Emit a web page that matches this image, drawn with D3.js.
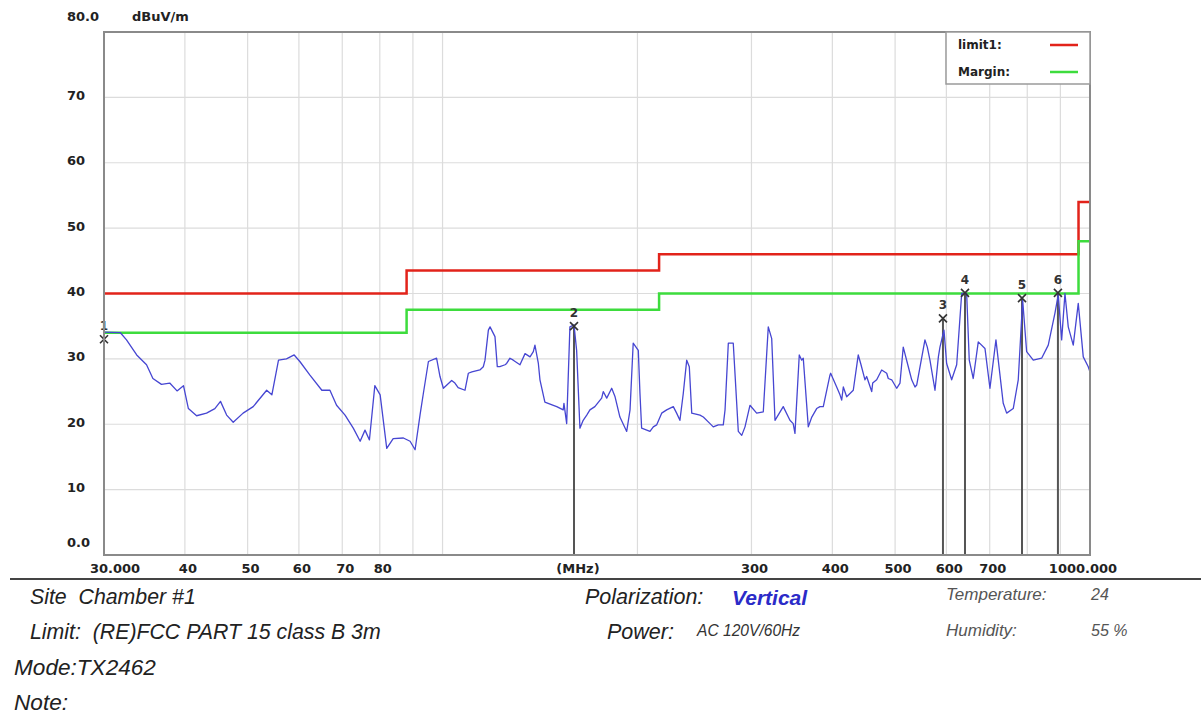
<!DOCTYPE html>
<html>
<head>
<meta charset="utf-8">
<script src="https://cdn.jsdelivr.net/npm/d3@7"></script>
<style>
	body { margin: 0; background: #fff; }
	svg { display: block; }
	.tick { font-family: "DejaVu Sans", sans-serif; font-weight: bold; font-size: 13px; fill: #222; }
	.info { font-family: "Liberation Sans", Arial, sans-serif; font-style: italic; white-space: pre; }
</style>
</head>
<body>
<svg id="chart" width="1201" height="716"></svg>
<script>
const width = 1201,
	height = 716;

// limit lines (FCC part 15 class B, 3m)
const limitFreq = [30, 88, 216, 960, 1000];
const limitLevel = [40, 43.5, 46, 54, 54];
const marginLevel = [34, 37.5, 40, 48, 48];

const yTicks = [0, 10, 20, 30, 40, 50, 60, 70, 80];
const xLabels = [30, 40, 50, 60, 70, 80, 300, 400, 500, 600, 700, 1000];
const xGrid = [40, 50, 60, 70, 80, 90, 100, 200, 300, 400, 500, 600, 700, 800, 900];

const markerNames = ["1", "2", "3", "4", "5", "6"];
const markerFreq = [30.0, 159.6, 592.8, 641.1, 785.2, 892.2];
const markerLevel = [33.0, 35.0, 36.2, 40.1, 39.3, 40.1];

// measured trace [MHz, dBuV/m]
const trace = [
	[30.0,34.1],[31.8,34.0],[32.5,32.9],[33.7,30.6],[34.9,29.1],[35.7,27.0],[36.8,26.1],[37.9,26.3],
	[38.9,25.1],[39.8,25.9],[40.5,22.4],[41.7,21.3],[43.2,21.7],[44.5,22.4],[45.4,23.5],[46.4,21.4],
	[47.5,20.3],[49.2,21.7],[51.0,22.7],[53.5,25.2],[54.5,24.5],[55.8,29.8],[57.4,30.0],[59.0,30.6],
	[60.2,29.6],[62.4,27.5],[65.1,25.2],[67.0,25.2],[68.6,22.9],[70.7,21.4],[72.8,19.4],[74.6,17.4],
	[75.9,19.1],[77.1,17.6],[78.6,25.9],[80.1,24.5],[82.0,16.3],[83.9,17.8],[87.0,17.9],[89.1,17.4],
	[90.7,16.1],[92.3,21.4],[93.4,24.7],[95.1,29.6],[97.9,30.1],[99.1,27.3],[100.3,25.5],[103.3,26.7],
	[104.5,26.3],[105.7,25.6],[108.3,25.2],[109.6,27.8],[111.0,28.0],[114.2,28.3],[115.6,28.8],[116.3,29.8],
	[117.7,34.4],[118.4,34.9],[120.5,33.4],[121.5,28.8],[122.6,28.8],[124.9,29.1],[125.6,29.3],[127.1,30.1],
	[128.6,29.8],[131.7,29.1],[134.1,30.8],[136.5,30.3],[138.1,31.1],[138.9,32.1],[140.6,29.3],[141.4,26.8],
	[143.9,23.4],[148.3,22.9],[150.1,22.7],[153.6,22.2],[154.0,23.2],[155.5,20.1],[157.3,34.9],[159.6,35.2],
	[161.1,31.3],[163.0,19.4],[164.9,20.6],[167.0,21.4],[168.9,22.2],[171.9,22.7],[176.1,24.0],[177.1,25.0],
	[179.3,24.0],[182.5,25.5],[184.7,24.2],[187.9,21.1],[192.5,18.9],[194.8,22.2],[197.0,32.4],[200.6,31.3],
	[201.8,24.7],[203.0,19.4],[209.1,18.9],[211.6,19.6],[214.1,19.9],[218.0,21.7],[221.9,22.2],[227.2,22.7],
	[229.9,21.7],[232.6,20.6],[235.4,24.7],[238.3,29.8],[240.5,28.8],[242.6,21.7],[249.8,21.4],[252.8,21.1],
	[258.9,20.1],[261.9,19.6],[266.6,19.9],[271.4,19.9],[273.1,22.2],[276.3,32.4],[281.2,32.4],[286.3,18.9],
	[289.8,18.3],[293.2,19.6],[298.4,22.9],[305.6,21.7],[312.9,21.9],[318.5,34.9],[322.4,33.1],[326.2,20.6],
	[335.9,22.7],[344.0,20.6],[348.0,20.1],[350.2,18.6],[355.6,30.6],[358.7,29.8],[360.7,30.1],[367.2,19.6],
	[371.8,21.1],[378.3,22.4],[382.8,22.7],[387.3,22.7],[396.6,27.5],[397.6,27.8],[406.2,25.7],[411.0,24.5],
	[413.5,23.7],[415.9,25.7],[420.9,24.2],[425.9,24.7],[430.9,25.2],[438.6,30.6],[442.4,29.3],[449.2,26.8],
	[451.9,27.3],[460.1,25.0],[461.7,26.3],[468.3,26.8],[476.7,28.3],[485.3,27.8],[488.0,27.0],[494.0,26.8],
	[502.8,25.5],[508.8,26.3],[514.7,31.8],[527.2,27.8],[530.4,26.8],[536.7,25.7],[539.9,26.0],[556.0,32.9],
	[560.7,31.8],[566.0,29.8],[576.2,25.2],[583.2,30.3],[586.5,31.8],[594.9,34.4],[600.6,29.3],[611.4,26.8],
	[622.4,29.1],[633.6,40.0],[644.9,40.0],[650.9,29.8],[660.2,27.0],[672.1,32.6],[688.3,31.6],[700.6,25.5],
	[715.7,32.9],[734.5,23.2],[743.5,21.7],[761.1,22.4],[774.8,26.8],[787.0,39.0],[798.3,31.1],[817.3,29.8],
	[842.0,30.1],[862.0,32.1],[882.8,37.0],[893.2,39.8],[904.1,32.9],[914.8,40.0],[925.6,34.9],[942.2,32.1],
	[959.1,38.5],[976.3,30.3],[993.8,28.8],[1000,28.0]
];

const xScale = d3.scaleLog()
	.domain([30, 1000])
	.range([104, 1090]);

const yScale = d3.scaleLinear()
	.domain([0, 80])
	.range([555, 32]);

const chart = d3.select("#chart");

// grid
chart.selectAll("line.hgrid")
	.data(yTicks.slice(1, -1))
	.join("line")
	.attr("class", "hgrid")
	.attr("x1", xScale(30)).attr("x2", xScale(1000))
	.attr("y1", d => yScale(d)).attr("y2", d => yScale(d))
	.attr("stroke", "#dcdcdc").attr("stroke-width", 1.2);

chart.selectAll("line.vgrid")
	.data(xGrid)
	.join("line")
	.attr("class", "vgrid")
	.attr("x1", d => xScale(d)).attr("x2", d => xScale(d))
	.attr("y1", yScale(80)).attr("y2", yScale(0))
	.attr("stroke", "#dcdcdc").attr("stroke-width", 1.2);

// limit + margin
const stepLine = d3.line()
	.x(d => xScale(d[0]))
	.y(d => yScale(d[1]))
	.curve(d3.curveStepAfter);

chart.append("path")
	.datum(limitFreq.map((f, i) => [f, limitLevel[i]]))
	.attr("fill", "none")
	.attr("stroke", "#e2231a")
	.attr("stroke-width", 2.5)
	.attr("d", stepLine);

chart.append("path")
	.datum(limitFreq.map((f, i) => [f, marginLevel[i]]))
	.attr("fill", "none")
	.attr("stroke", "#3ddc3d")
	.attr("stroke-width", 2.5)
	.attr("d", stepLine);

// marker lines
const markers = markerNames.map((n, i) => ({name: n, f: markerFreq[i], v: markerLevel[i]}));

chart.selectAll("line.mline")
	.data(markers)
	.join("line")
	.attr("class", "mline")
	.attr("x1", d => xScale(d.f)).attr("x2", d => xScale(d.f))
	.attr("y1", d => yScale(d.v)).attr("y2", yScale(0))
	.attr("stroke", "#555").attr("stroke-width", 2);

// trace
const line = d3.line()
	.x(d => xScale(d[0]))
	.y(d => yScale(d[1]));

chart.append("path")
	.datum(trace)
	.attr("fill", "none")
	.attr("stroke", "#4646d2")
	.attr("stroke-width", 1.3)
	.attr("stroke-linejoin", "round")
	.attr("d", line);

// marker crosses + labels
const mg = chart.selectAll("g.marker")
	.data(markers)
	.join("g")
	.attr("class", "marker")
	.attr("transform", d => `translate(${xScale(d.f)},${yScale(d.v)})`);

mg.append("path")
	.attr("d", "M-4,-4L4,4M-4,4L4,-4")
	.attr("stroke", "#333")
	.attr("stroke-width", 1.6);

mg.append("text")
	.attr("y", -9)
	.attr("text-anchor", "middle")
	.attr("font-family", "DejaVu Sans, sans-serif")
	.attr("font-weight", "bold")
	.attr("font-size", 12)
	.attr("fill", "#333")
	.text(d => d.name);

// frame
chart.append("rect")
	.attr("x", xScale(30)).attr("y", yScale(80))
	.attr("width", xScale(1000) - xScale(30))
	.attr("height", yScale(0) - yScale(80))
	.attr("fill", "none")
	.attr("stroke", "#8a8a8a")
	.attr("stroke-width", 2);

// y labels
chart.selectAll("text.ylab")
	.data(yTicks)
	.join("text")
	.attr("class", "tick ylab")
	.attr("x", 67)
	.attr("y", d => d === 80 ? 16 : d === 0 ? 542 : yScale(d) - 2)
	.attr("dy", "0.35em")
	.text(d => (d === 0 || d === 80) ? d.toFixed(1) : d);

chart.append("text")
	.attr("class", "tick")
	.attr("x", 132).attr("y", 16).attr("dy", "0.35em")
	.text("dBuV/m");

// x labels
chart.selectAll("text.xlab")
	.data(xLabels)
	.join("text")
	.attr("class", "tick xlab")
	.attr("x", d => d === 30 ? xScale(d) + 11 : d === 1000 ? xScale(d) - 7 : xScale(d) + 3)
	.attr("y", 568)
	.attr("dy", "0.35em")
	.attr("text-anchor", "middle")
	.text(d => (d === 30 || d === 1000) ? d.toFixed(3) : d);

chart.append("text")
	.attr("class", "tick")
	.attr("x", 578).attr("y", 568).attr("dy", "0.35em")
	.attr("text-anchor", "middle")
	.text("(MHz)");

// legend
const legendNames = ["limit1:", "Margin:"];
const legendColors = ["#e2231a", "#3ddc3d"];

chart.append("rect")
	.attr("x", 946).attr("y", 32)
	.attr("width", 144).attr("height", 52)
	.attr("fill", "#fff")
	.attr("stroke", "#9a9a9a")
	.attr("stroke-width", 1.5);

const lg = chart.selectAll("g.legend")
	.data(legendNames)
	.join("g")
	.attr("class", "legend")
	.attr("transform", (d, i) => `translate(958,${45 + i * 27})`);

lg.append("text")
	.attr("dy", "0.35em")
	.attr("font-family", "DejaVu Sans, sans-serif")
	.attr("font-weight", "bold")
	.attr("font-size", 12)
	.attr("fill", "#222")
	.text(d => d);

lg.append("line")
	.attr("x1", 92).attr("x2", 120)
	.attr("stroke", (d, i) => legendColors[i])
	.attr("stroke-width", 2.5);

// info block
chart.append("line")
	.attr("x1", 10).attr("x2", width)
	.attr("y1", 579).attr("y2", 579)
	.attr("stroke", "#444").attr("stroke-width", 2);

const infoText = [
	{t: "Site  Chamber #1", x: 30, y: 604, s: 21.3},
	{t: "Limit:  (RE)FCC PART 15 class B 3m", x: 30, y: 639, s: 21.3},
	{t: "Mode:TX2462", x: 14, y: 675, s: 22.6},
	{t: "Note:", x: 14, y: 710, s: 22.6},
	{t: "Polarization:", x: 585, y: 604, s: 21.5},
	{t: "Power:", x: 607, y: 639, s: 21.5},
	{t: "AC 120V/60Hz", x: 697, y: 636, s: 15.6, c: "#333"},
	{t: "Temperature:", x: 946, y: 600, s: 17, c: "#555"},
	{t: "24", x: 1091, y: 600, s: 16, c: "#555"},
	{t: "Humidity:", x: 946, y: 636, s: 17, c: "#555"},
	{t: "55 %", x: 1091, y: 636, s: 16, c: "#555"}
];

chart.selectAll("text.info")
	.data(infoText)
	.join("text")
	.attr("class", "info")
	.attr("x", d => d.x).attr("y", d => d.y)
	.attr("font-size", d => d.s)
	.attr("fill", d => d.c || "#222")
	.text(d => d.t);

chart.append("text")
	.attr("class", "info")
	.attr("x", 732).attr("y", 605)
	.attr("font-size", 21)
	.attr("font-weight", "bold")
	.attr("fill", "#2b2bc8")
	.text("Vertical");
</script>
</body>
</html>
